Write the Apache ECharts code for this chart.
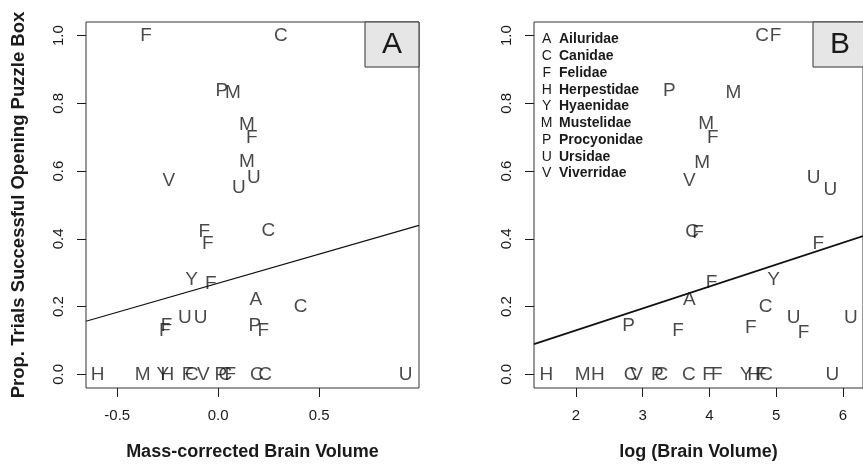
<!DOCTYPE html>
<html>
<head>
<meta charset="utf-8">
<script src="https://cdn.jsdelivr.net/npm/echarts@6/dist/echarts.min.js"></script>
<style>
  html, body { margin: 0; padding: 0; background: #fff; }
  #chart { width: 863px; height: 466px; }
</style>
</head>
<body>
<div id="chart"></div>
<script>
// panel A: mass-corrected brain volume
const lettersA = ['F','C','P','M','M','F','M','U','U','V','F','F','C','Y','F','A','C','U','U','F','F','P','F',
  'H','M','Y','H','F','C','V','P','C','F','C','C','U']
const xA = [-0.358, 0.310, 0.018, 0.073, 0.142, 0.167, 0.142, 0.177, 0.103, -0.244, -0.069, -0.052, 0.248,
  -0.132, -0.036, 0.187, 0.409, -0.165, -0.087, -0.256, -0.264, 0.182, 0.224,
  -0.597, -0.374, -0.274, -0.252, -0.152, -0.131, -0.074, 0.013, 0.036, 0.060, 0.192, 0.232, 0.929]
const yA = [1.0, 1.0, 0.836, 0.831, 0.738, 0.697, 0.627, 0.580, 0.551, 0.571, 0.420, 0.386, 0.423,
  0.279, 0.269, 0.221, 0.201, 0.167, 0.167, 0.143, 0.128, 0.143, 0.128,
  0, 0, 0, 0, 0, 0, 0, 0, 0, 0, 0, 0, 0]
const trendXA = [-0.655, 0.995]
const trendYA = [0.157, 0.440]
const ticksXA = [-0.5, 0, 0.5]

// panel B: log brain volume
const lettersB = ['C','F','P','M','M','F','M','V','U','U','C','F','F','F','A','Y','C','U','F','U','F','F','P',
  'H','M','H','C','V','P','C','C','F','F','Y','H','F','C','U']
const xB = [4.79, 4.99, 3.40, 4.36, 3.95, 4.05, 3.89, 3.70, 5.56, 5.81, 3.74, 3.83, 5.63, 4.03, 3.70, 4.96,
  4.84, 5.26, 5.41, 6.12, 3.53, 4.62, 2.79,
  1.556, 2.10, 2.33, 2.82, 2.91, 3.22, 3.28, 3.69, 3.98, 4.11, 4.55, 4.67, 4.77, 4.85, 5.84]
const yB = [1.0, 1.0, 0.838, 0.831, 0.739, 0.697, 0.626, 0.571, 0.580, 0.546, 0.420, 0.418, 0.386, 0.271,
  0.221, 0.279, 0.201, 0.167, 0.123, 0.167, 0.128, 0.138, 0.143,
  0, 0, 0, 0, 0, 0, 0, 0, 0, 0, 0, 0, 0, 0, 0]
const trendXB = [1.372, 6.30]
const trendYB = [0.0895, 0.408]
const ticksXB = [2, 3, 4, 5, 6]

const ticksY = [0, 0.2, 0.4, 0.6, 0.8, 1.0]
const legendLetters = ['A','C','F','H','Y','M','P','U','V']
const legendNames = ['Ailuridae','Canidae','Felidae','Herpestidae','Hyaenidae','Mustelidae','Procyonidae','Ursidae','Viverridae']

const font = '"Liberation Sans", Arial, Helvetica, sans-serif'
const ink = '#1a1a1a'

const chart = echarts.init(document.getElementById('chart'))

const makeX = (idx, min, max, ticks, digits, name) => ({
  type: 'value', gridIndex: idx, min, max,
  splitLine: { show: false },
  axisLine: { show: false, onZero: false },
  axisTick: { show: true, length: 9, customValues: ticks, lineStyle: { color: ink } },
  axisLabel: {
    customValues: ticks, margin: 20, fontSize: 15, color: ink, fontFamily: font,
    formatter: v => v.toFixed(digits)
  },
  name, nameLocation: 'middle', nameGap: 55,
  nameTextStyle: { fontSize: 18, fontWeight: 'bold', color: ink, fontFamily: font }
})

const makeY = (idx, name) => ({
  type: 'value', gridIndex: idx, min: -0.04, max: 1.04,
  splitLine: { show: false },
  axisLine: { show: false, onZero: false },
  axisTick: { show: true, length: 9, customValues: ticksY, lineStyle: { color: ink } },
  axisLabel: {
    customValues: ticksY, margin: 20, rotate: 90, fontSize: 15, color: ink, fontFamily: font,
    formatter: v => v.toFixed(1)
  },
  name, nameLocation: 'middle', nameGap: 58,
  nameTextStyle: { fontSize: 18.5, fontWeight: 'bold', color: ink, fontFamily: font }
})

const letterSeries = (idx, xs, ys, letters) => ({
  type: 'scatter', xAxisIndex: idx, yAxisIndex: idx,
  symbolSize: 1,
  itemStyle: { color: 'rgba(0,0,0,0)' },
  data: xs.map((x, i) => [x, ys[i], letters[i]]),
  label: {
    show: true, position: 'inside', formatter: p => p.data[2],
    fontSize: 19, color: ink, fontFamily: font
  },
  silent: true
})

const trendSeries = (idx, xs, ys, width) => ({
  type: 'line', xAxisIndex: idx, yAxisIndex: idx,
  data: xs.map((x, i) => [x, ys[i]]),
  showSymbol: false, symbol: 'none',
  lineStyle: { color: '#111', width },
  silent: true
})

const legendGraphics = []
legendLetters.forEach((l, i) => {
  const y = 39.5 + i * 16.75
  legendGraphics.push({
    type: 'text', x: 546.7, y,
    style: { text: l, fontSize: 14, fill: ink, fontFamily: font, align: 'center', verticalAlign: 'middle' }
  })
  legendGraphics.push({
    type: 'text', x: 559, y,
    style: { text: legendNames[i], fontSize: 14, fontWeight: 'bold', fill: ink, fontFamily: font, align: 'left', verticalAlign: 'middle' }
  })
})

const panelTag = (x, text) => [
  { type: 'rect', shape: { x, y: 22, width: 54, height: 45 }, style: { fill: '#e6e6e6', stroke: '#333', lineWidth: 1 } },
  { type: 'text', x: x + 27, y: 45, style: { text, fontSize: 30, fill: ink, fontFamily: font, align: 'center', verticalAlign: 'middle' } }
]

chart.setOption({
  animation: false,
  backgroundColor: '#fff',
  grid: [
    { left: 86, top: 22, width: 333, height: 370, show: true, borderColor: '#333', borderWidth: 1, backgroundColor: 'transparent' },
    { left: 534, top: 22, width: 333, height: 370, show: true, borderColor: '#333', borderWidth: 1, backgroundColor: 'transparent' }
  ],
  xAxis: [
    makeX(0, -0.655, 0.995, ticksXA, 1, 'Mass-corrected Brain Volume'),
    makeX(1, 1.372, 6.30, ticksXB, 0, 'log (Brain Volume)')
  ],
  yAxis: [
    makeY(0, 'Prop. Trials Successful Opening Puzzle Box'),
    makeY(1, '')
  ],
  series: [
    trendSeries(0, trendXA, trendYA, 1.2),
    letterSeries(0, xA, yA, lettersA),
    trendSeries(1, trendXB, trendYB, 1.8),
    letterSeries(1, xB, yB, lettersB)
  ],
  graphic: [...panelTag(365, 'A'), ...panelTag(813, 'B'), ...legendGraphics]
})
</script>
</body>
</html>
